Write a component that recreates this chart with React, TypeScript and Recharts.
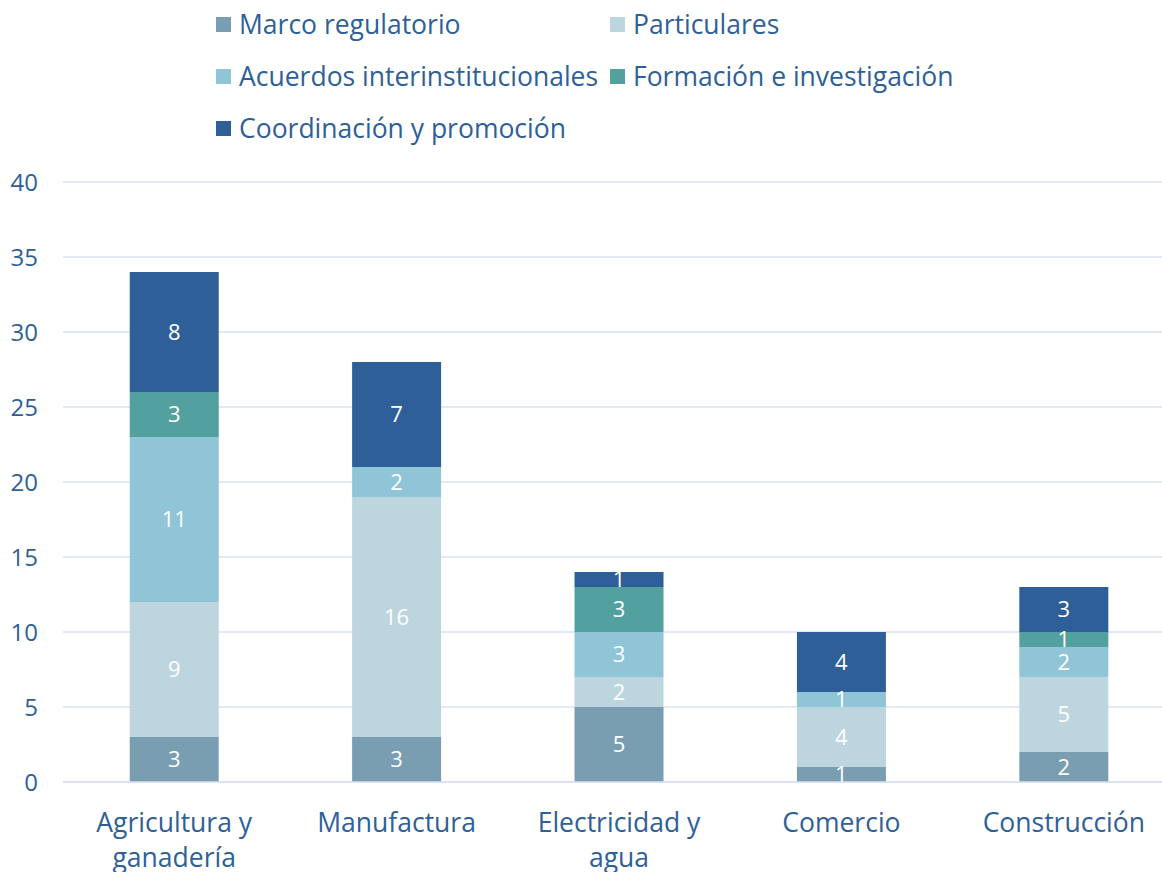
import React from "react";
import { BarChart, Bar, XAxis, YAxis, CartesianGrid, Legend, LabelList } from "recharts";

const categories = ["Agricultura y\nganadería", "Manufactura", "Electricidad y\nagua", "Comercio", "Construcción"];
const marcoRegulatorio = [3, 3, 5, 1, 2];
const particulares = [9, 16, 2, 4, 5];
const acuerdos = [11, 2, 3, 1, 2];
const formacion = [3, 0, 3, 0, 1];
const coordinacion = [8, 7, 1, 4, 3];
const yTicks = [0, 5, 10, 15, 20, 25, 30, 35, 40];

const seriesNames = [
  "Marco regulatorio",
  "Particulares",
  "Acuerdos interinstitucionales",
  "Formación e investigación",
  "Coordinación y promoción",
];
const colors = ["#7A9EB1", "#BDD5DF", "#8FC5D7", "#52A19F", "#2E5F99"];
const keys = ["marco", "part", "acu", "form", "coord"];

const data = categories.map((c, i) => ({
  name: c,
  marco: marcoRegulatorio[i],
  part: particulares[i],
  acu: acuerdos[i],
  form: formacion[i],
  coord: coordinacion[i],
}));

const TEXT = "#2F5F98";
const FONT = "'Open Sans', 'Noto Sans', sans-serif";

const CatTick = (props: any) => {
  const { x, y, payload } = props;
  const lines = String(payload.value).split("\n");
  return (
    <g transform={`translate(${x},${y})`}>
      {lines.map((l, i) => (
        <text key={i} x={0} y={32 + i * 35} textAnchor="middle" dominantBaseline="central" fill={TEXT} fontSize={26.5} fontFamily={FONT}>
          {l}
        </text>
      ))}
    </g>
  );
};

const LegendContent = () => (
  <div style={{ position: "relative", width: 1162, height: 160, fontFamily: FONT }}>
    {seriesNames.map((n, i) => {
      const col = i % 2;
      const row = Math.floor(i / 2);
      const left = col === 0 ? 216 : 610;
      const cy = 24 + row * 52;
      return (
        <div key={n} style={{ position: "absolute", left, top: cy - 17, height: 34, display: "flex", alignItems: "center", whiteSpace: "nowrap" }}>
          <div style={{ width: 15, height: 15, background: colors[i], marginRight: 8 }} />
          <span style={{ color: TEXT, fontSize: 26.5, lineHeight: "34px" }}>{n}</span>
        </div>
      );
    })}
  </div>
);

export default function App() {
  return (
    <div style={{ position: "absolute", left: 0, top: 0, width: 1162, height: 872, overflow: "hidden", background: "#fff" }}>
      <BarChart
        width={1175}
        height={872}
        data={data}
        margin={{ top: 182, right: 0, bottom: 0, left: 0 }}
        barCategoryGap="30%"
      >
        <CartesianGrid vertical={false} stroke="#D9E1F2" strokeWidth={1.5} />
        <XAxis
          dataKey="name"
          height={90}
          axisLine={{ stroke: "#D9E1F2", strokeWidth: 1.5 }}
          tickLine={false}
          interval={0}
          tick={<CatTick />}
        />
        <YAxis
          width={63}
          domain={[0, 40]}
          ticks={yTicks}
          axisLine={false}
          tickLine={false}
          tickSize={0}
          tickMargin={25}
          tick={{ fill: TEXT, fontSize: 24, fontFamily: FONT }}
        />
        <Legend
          layout="horizontal"
          verticalAlign="middle"
          align="center"
          wrapperStyle={{ top: 0, left: 0, width: 1162, height: 160 }}
          content={<LegendContent />}
        />
        {keys.map((k, i) => (
          <Bar key={k} dataKey={k} name={seriesNames[i]} stackId="a" fill={colors[i]} isAnimationActive={false}>
            <LabelList
              dataKey={k}
              position="center"
              fill="#FFFFFF"
              fontSize={22}
              fontFamily={FONT}
              formatter={(v: any) => (v ? v : "")}
            />
          </Bar>
        ))}
      </BarChart>
    </div>
  );
}
